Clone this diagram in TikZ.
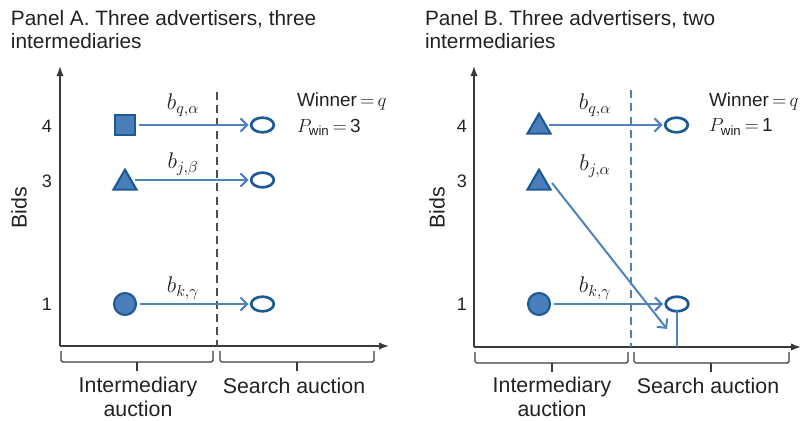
\RequirePackage{fix-cm}
\documentclass[tikz,border=0pt]{standalone}
\usepackage{amsmath}
\usepackage{fontspec}
\setmainfont{Liberation Sans}
\usetikzlibrary{arrows.meta,shapes.geometric}
\definecolor{bfill}{HTML}{4A7EBB}
\definecolor{bdark}{HTML}{1B5A96}
\definecolor{barrow}{HTML}{4F81BD}
\definecolor{axisc}{HTML}{3A3A3A}
\definecolor{txtc}{HTML}{222222}
\begin{document}
\begin{tikzpicture}[x=0.75pt,y=-0.75pt,
  every node/.style={inner sep=0pt,outer sep=0pt,text=txtc},
  title/.style={anchor=west,align=left,font=\fontsize{15.6}{16.8}\selectfont},
  lab/.style={font=\fontsize{16}{17.5}\selectfont,align=center},
  wlab/.style={anchor=west,font=\fontsize{14.2}{14.2}\selectfont},
  tick/.style={font=\fontsize{13.5}{13.5}\selectfont},
  mlab/.style={font=\fontsize{17}{17}\selectfont},
  axis/.style={draw=axisc,line width=1.1pt,-{Latex[length=7.5pt,width=5.5pt]}},
  brace/.style={draw=axisc,line width=0.9pt,rounded corners=1.2pt},
  sqr/.style={draw=bdark,fill=bfill,line width=1.6pt,minimum size=15.5pt},
  tri/.style={draw=bdark,fill=bfill,line width=1.6pt,regular polygon,regular polygon sides=3,minimum size=20pt},
  circ/.style={draw=bdark,fill=bfill,line width=1.6pt,circle,minimum size=16.5pt},
  ell/.style={draw=bdark,line width=2pt,ellipse,minimum width=17pt,minimum height=11pt},
  arr/.style={draw=barrow,line width=1.5pt,shorten >=2pt,-{Straight Barb[length=5pt,width=10pt,line width=1.5pt]}},
  divA/.style={draw=axisc!90,line width=1.1pt,dash pattern=on 6pt off 3.8pt},
  divB/.style={draw=barrow,line width=1.5pt,dash pattern=on 6pt off 4pt}]
\useasboundingbox (0,0) rectangle (804,421);

% ---------------- Panel A ----------------
\node[title] (tA) at (11,29.5) {Panel A. Three advertisers, three\\intermediaries};
\coordinate (oA) at (60,346);
\coordinate (yA) at (60,66);
\coordinate (xA) at (389,346);
\draw[axis] (oA) -- (yA);
\draw[axis] (oA) -- (xA);
\node[lab,rotate=90] (bidsA) at (19,208) {Bids};
\node[tick] (t4A) at (47,126) {4};
\node[tick] (t3A) at (47,181) {3};
\node[tick] (t1A) at (47,304) {1};
\coordinate (dAt) at (217,92);
\coordinate (dAb) at (217,346);
\draw[divA] (dAt) -- (dAb);

\node[sqr] (sA) at (125,125) {};
\node[tri] (trA) at (125,183) {};
\node[circ] (cA) at (125,304) {};
\node[ell] (e1A) at (262.5,125) {};
\node[ell] (e2A) at (262.5,180) {};
\node[ell] (e3A) at (262.5,304) {};
\draw[arr] ([xshift=3pt]sA.east) -- (e1A.west);
\draw[arr] ([xshift=2pt]trA.east |- e2A.west) -- (e2A.west);
\draw[arr] ([xshift=3pt]cA.east) -- (e3A.west);
\node[mlab] (bqA) at (183,105) {$b_{q,\alpha}$};
\node[mlab] (bjA) at (183,164) {$b_{j,\beta}$};
\node[mlab] (bkA) at (183,288) {$b_{k,\gamma}$};
\node[wlab] (wA) at (297,101) {Winner$\,{=}\,q$};
\node[wlab] (pA) at (297,127) {$P_{\text{win}}\,{=}\,\text{3}$};

\draw[brace] (61,351) -- (61,362) -- (213,362) -- (213,351);
\draw[brace] (137,362) -- (137,371);
\draw[brace] (220,351) -- (220,362) -- (374,362) -- (374,351);
\draw[brace] (297,362) -- (297,371);
\node[lab] (iA) at (138,397) {Intermediary\\auction};
\node[lab] (saA) at (294,386) {Search auction};

% ---------------- Panel B ----------------
\node[title] (tB) at (425,29.5) {Panel B. Three advertisers, two\\intermediaries};
\coordinate (oB) at (474,347);
\coordinate (yB) at (474,66);
\coordinate (xB) at (801,347);
\draw[axis] (oB) -- (yB);
\draw[axis] (oB) -- (xB);
\node[lab,rotate=90] (bidsB) at (437,208) {Bids};
\node[tick] (t4B) at (462,126) {4};
\node[tick] (t3B) at (462,181) {3};
\node[tick] (t1B) at (462,304) {1};
\coordinate (dBt) at (631,90);
\coordinate (dBb) at (631,347);
\draw[divB] (dBt) -- (dBb);

\node[tri] (tr1B) at (539,127) {};
\node[tri] (tr2B) at (539,183) {};
\node[circ] (cB) at (539,304) {};
\node[ell] (e1B) at (676.5,125) {};
\node[ell] (e3B) at (677,304) {};
\coordinate (endB) at (667,329);
\draw[arr] ([xshift=2pt]tr1B.east |- e1B.west) -- (e1B.west);
\draw[arr] ([xshift=3pt]cB.east) -- (e3B.west);
\draw[arr,shorten >=0pt] ([shift={(4pt,0pt)}]tr2B.east) -- (endB);
\draw[draw=barrow,line width=1.5pt] (e3B.south) -- (e3B.south |- oB);
\node[mlab] (bqB) at (595,105) {$b_{q,\alpha}$};
\node[mlab] (bjB) at (595,166) {$b_{j,\alpha}$};
\node[mlab] (bkB) at (595,288) {$b_{k,\gamma}$};
\node[wlab] (wB) at (709,101) {Winner$\,{=}\,q$};
\node[wlab] (pB) at (709,127) {$P_{\text{win}}\,{=}\,\text{1}$};

\draw[brace] (475,352) -- (475,363) -- (628,363) -- (628,352);
\draw[brace] (552,363) -- (552,372);
\draw[brace] (634,352) -- (634,363) -- (789,363) -- (789,352);
\draw[brace] (711,363) -- (711,372);
\node[lab] (iB) at (552,397) {Intermediary\\auction};
\node[lab] (saB) at (708,386) {Search auction};
\end{tikzpicture}
\end{document}
